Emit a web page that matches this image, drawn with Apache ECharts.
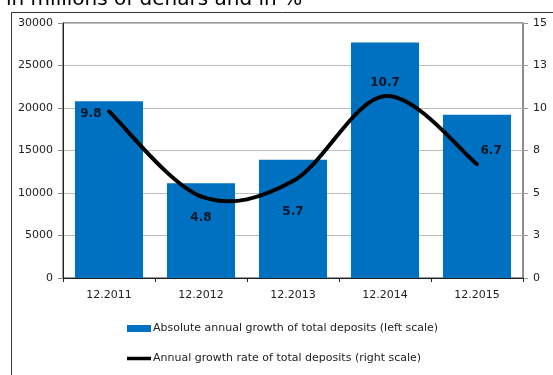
<!DOCTYPE html>
<html>
<head>
<meta charset="utf-8">
<script src="https://cdn.jsdelivr.net/npm/echarts@6/dist/echarts.min.js"></script>
<style>
  html, body { margin: 0; padding: 0; background: #fff; }
  #chart { width: 553px; height: 375px; }
</style>
</head>
<body>
<div id="chart"></div>
<script>
// Deposit growth, December of each year
const categories = ['12.2011', '12.2012', '12.2013', '12.2014', '12.2015'];
// Absolute annual growth, millions of denars (left scale)
const absoluteGrowth = [20800, 11150, 13900, 27700, 19200];
// Annual growth rate, % (right scale)
const growthRate = [9.8, 4.8, 5.7, 10.7, 6.7];

const titleText = 'in millions of denars and in %';
const barName = 'Absolute annual growth of total deposits (left scale)';
const lineName = 'Annual growth rate of total deposits (right scale)';

// where each rate label sits around its point
const labelPlacement = [
  { position: 'left', distance: 7, offset: [0, 2] },
  { position: 'bottom', distance: 15 },
  { position: 'bottom', distance: 24 },
  { position: 'top', distance: 7 },
  { position: 'right', distance: 3, offset: [0, -13] }
];

const FONT = 'DejaVu Sans';

// Cardinal-spline segment between point i and i+1 (tension 1/6),
// end points use their single neighbour for the tangent.
function splineSegment(pts, i) {
  const p0 = pts[Math.max(i - 1, 0)];
  const p1 = pts[i];
  const p2 = pts[i + 1];
  const p3 = pts[Math.min(i + 2, pts.length - 1)];
  return {
    x1: p1[0], y1: p1[1],
    cpx1: p1[0] + (p2[0] - p0[0]) / 6, cpy1: p1[1] + (p2[1] - p0[1]) / 6,
    cpx2: p2[0] - (p3[0] - p1[0]) / 6, cpy2: p2[1] - (p3[1] - p1[1]) / 6,
    x2: p2[0], y2: p2[1]
  };
}

function renderRateSegment(params, api) {
  const i = params.dataIndex;
  if (i >= growthRate.length - 1) return null;
  const pts = growthRate.map((v, k) => api.coord([k, v]));
  return {
    type: 'bezierCurve',
    shape: splineSegment(pts, i),
    style: { stroke: '#000', lineWidth: 4, fill: null, lineCap: 'round' }
  };
}

const chart = echarts.init(document.getElementById('chart'), null, { renderer: 'canvas' });

chart.setOption({
  animation: false,
  textStyle: { fontFamily: FONT },
  grid: {
    left: 63, right: 30, top: 23, bottom: 97,
    show: true, borderColor: '#333', borderWidth: 1
  },
  graphic: [
    {
      type: 'text', left: 6, top: -10,
      style: { text: titleText, font: '20px "DejaVu Sans"', fill: '#000' }
    },
    {
      type: 'polyline', silent: true,
      shape: { points: [[11.5, 375], [11.5, 12.5], [553, 12.5]] },
      style: { stroke: '#333', lineWidth: 1, fill: null }
    }
  ],
  legend: {
    orient: 'vertical',
    left: 127, top: 323,
    padding: 0,
    itemGap: 19,
    itemWidth: 24, itemHeight: 7,
    textStyle: { fontFamily: FONT, fontSize: 11, color: '#222', padding: [0, 0, 0, -3] },
    data: [
      { name: barName, icon: 'rect' },
      { name: lineName, icon: 'path://M0 0H48V7H0Z', itemStyle: { color: '#000' } }
    ]
  },
  xAxis: {
    type: 'category',
    data: categories,
    axisLine: { lineStyle: { color: '#222', width: 1 } },
    axisTick: { show: true, alignWithLabel: false, length: 4, lineStyle: { color: '#222' } },
    axisLabel: { color: '#222', fontSize: 11, margin: 12, fontFamily: FONT }
  },
  yAxis: [
    {
      type: 'value', min: 0, max: 30000, interval: 5000,
      axisLine: { show: true, lineStyle: { color: '#222' } },
      axisTick: { show: true, length: 5, lineStyle: { color: '#888' } },
      axisLabel: {
        color: '#222', fontSize: 11, margin: 10, fontFamily: FONT,
        formatter: v => String(v)
      },
      splitLine: { show: true, lineStyle: { color: '#bdbdbd', width: 1 } }
    },
    {
      type: 'value', min: 0, max: 15, interval: 2.5,
      position: 'right',
      axisLine: { show: true, lineStyle: { color: '#8a8a8a', width: 1.5 } },
      axisTick: { show: true, length: 5, lineStyle: { color: '#999' } },
      axisLabel: {
        color: '#222', fontSize: 11, margin: 10, fontFamily: FONT,
        formatter: v => String(Math.round(v))
      },
      splitLine: { show: false }
    }
  ],
  series: [
    {
      name: barName,
      type: 'bar',
      yAxisIndex: 0,
      data: absoluteGrowth,
      barCategoryGap: '26%',
      itemStyle: { color: '#0070C0' },
      z: 2
    },
    {
      name: lineName,
      type: 'custom',
      yAxisIndex: 1,
      renderItem: renderRateSegment,
      itemStyle: { color: '#000' },
      encode: { x: 0, y: 1 },
      data: growthRate.map((v, i) => [i, v]),
      z: 3
    },
    {
      // value labels for the rate curve
      name: 'rate-labels',
      type: 'scatter',
      yAxisIndex: 1,
      symbolSize: 1,
      itemStyle: { color: 'rgba(0,0,0,0)' },
      z: 4,
      label: {
        show: true, fontWeight: 'bold', fontSize: 12, color: '#000', fontFamily: FONT,
        formatter: p => p.value.toFixed(1)
      },
      data: growthRate.map((v, i) => ({
        value: v,
        label: Object.assign({ show: true }, labelPlacement[i])
      }))
    }
  ]
});
</script>
</body>
</html>
